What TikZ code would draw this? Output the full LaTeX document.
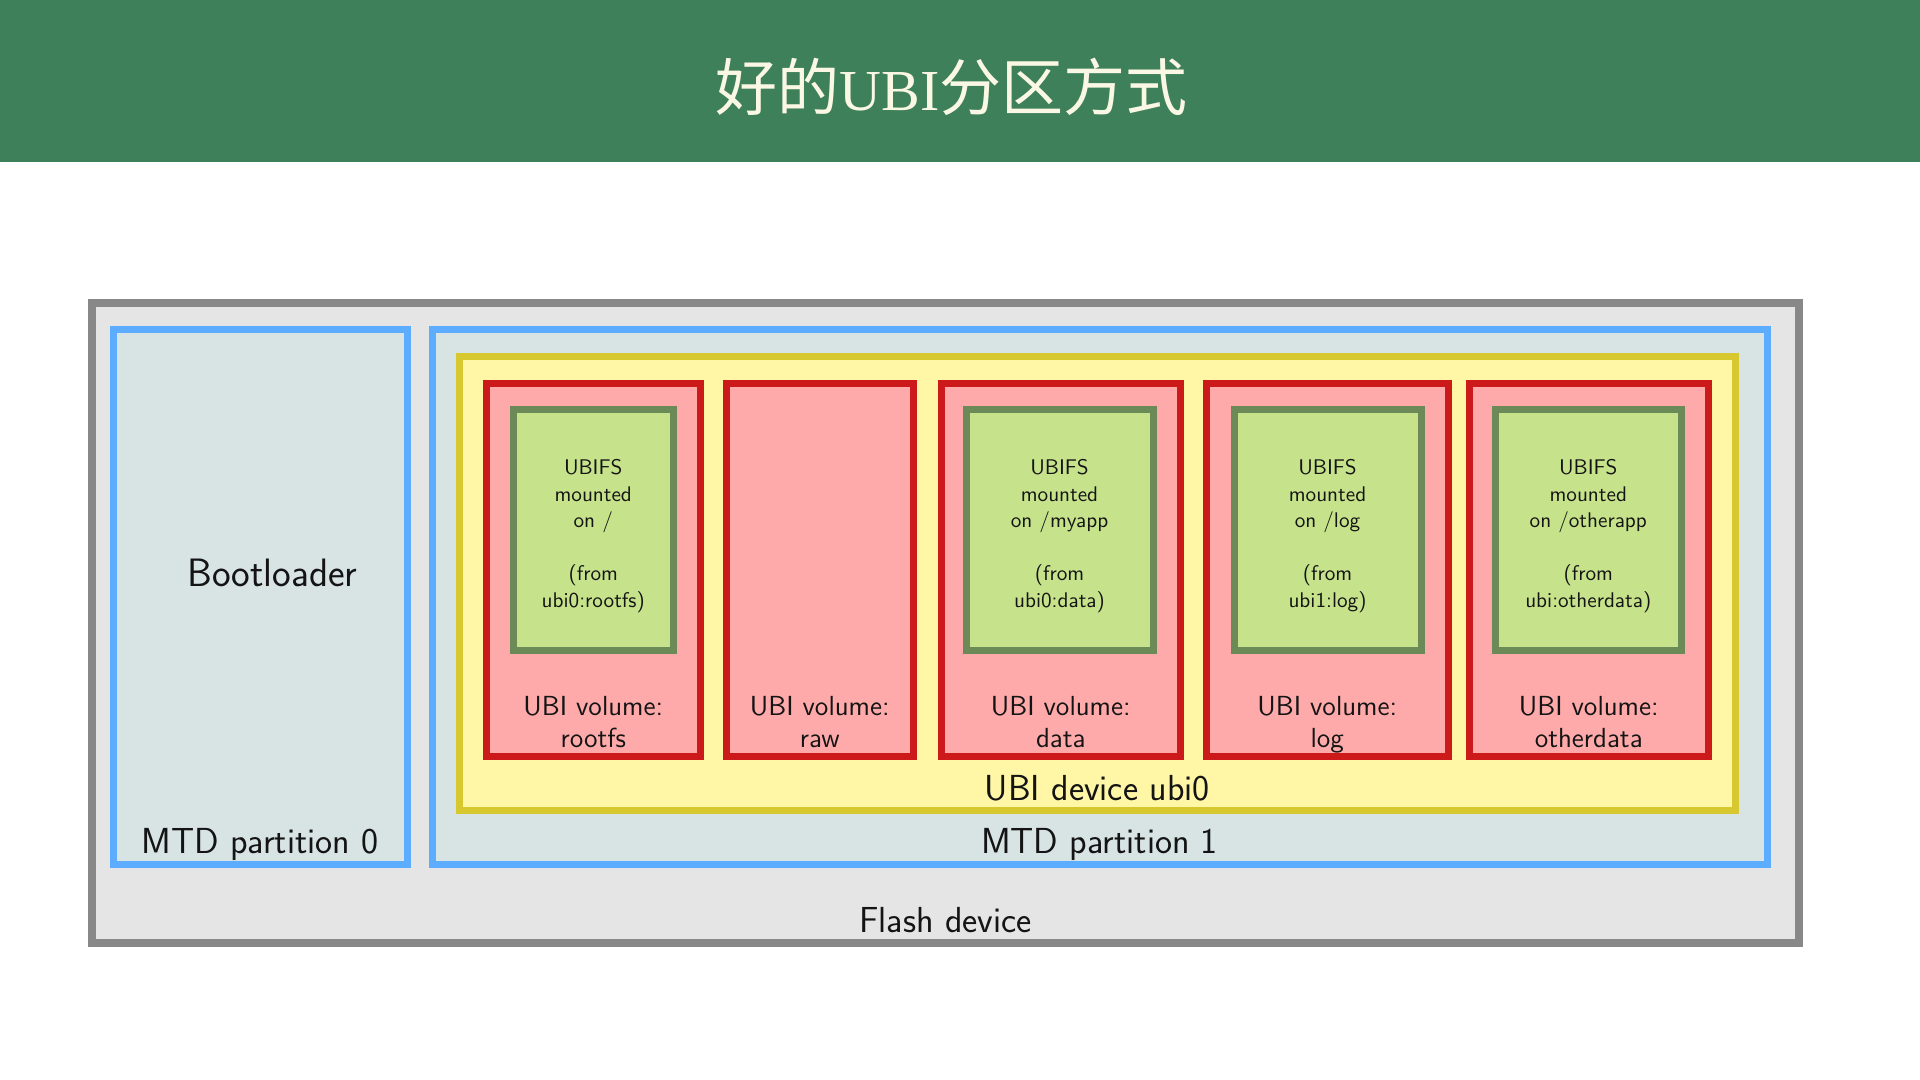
\documentclass[tikz,border=0pt]{standalone}
\usepackage{fontspec}
\newfontfamily\cjk{Noto Sans CJK SC}
\newfontfamily\titleserif{Liberation Serif}
\definecolor{hdr}{RGB}{62,128,90}
\definecolor{ttl}{RGB}{250,247,228}
\definecolor{flashline}{RGB}{136,136,136}
\definecolor{flashfill}{RGB}{229,229,229}
\definecolor{mtdline}{RGB}{92,172,255}
\definecolor{mtdfill}{RGB}{216,228,228}
\definecolor{ubiline}{RGB}{214,200,46}
\definecolor{ubifill}{RGB}{255,247,166}
\definecolor{volline}{RGB}{204,26,26}
\definecolor{volfill}{RGB}{255,170,170}
\definecolor{fsline}{RGB}{107,138,88}
\definecolor{fsfill}{RGB}{198,226,138}
\definecolor{txt}{RGB}{20,20,20}
\tikzset{
  boxbase/.style={rectangle, inner sep=0, outer sep=0, line width=3.5pt},
  flashbox/.style={boxbase, draw=flashline, fill=flashfill, line width=4pt},
  mtdbox/.style={boxbase, draw=mtdline, fill=mtdfill},
  ubibox/.style={boxbase, draw=ubiline, fill=ubifill},
  volbox/.style={boxbase, draw=volline, fill=volfill, minimum height=186.5pt},
  fsbox/.style={boxbase, draw=fsline, fill=fsfill, minimum height=120.25pt},
  biglbl/.style={inner sep=0, text=txt, font=\sffamily\fontsize{18.1}{21}\selectfont, anchor=base},
  vollbl/.style={inner sep=0, text=txt, align=center, anchor=north, font=\sffamily\fontsize{13.8}{16}\selectfont},
  fslbl/.style={inner sep=0, text=txt, align=center, anchor=north, font=\sffamily\fontsize{10.6}{13.25}\selectfont},
}
\begin{document}
\begin{tikzpicture}[x=0.5pt,y=-0.5pt]
\useasboundingbox[fill=white] (0,0) rectangle (1920,1080);
% header
\fill[hdr] (0,0) rectangle (1920,162);
\node[inner sep=0, text=ttl, font=\cjk\fontsize{31}{37}\selectfont] (title) at (951.5,87)
  {好的{\titleserif\fontsize{29}{34}\selectfont UBI}分区方式};
% flash device
\node[flashbox, minimum width=853.5pt, minimum height=319.75pt] (flash) at (945.5,623.25) {};
\node[biglbl] (flashlbl) at (945.5,932) {Flash device};
% MTD partitions
\node[mtdbox, minimum width=147pt, minimum height=267pt] (mtd0) at (260,597) {};
\node[mtdbox, minimum width=667.5pt, minimum height=267pt] (mtd1) at (1099.5,597) {};
\node[biglbl] (mtd0lbl) at (260,853) {MTD partition 0};
\node[biglbl] (mtd1lbl) at (1099.5,853) {MTD partition 1};
\node[inner sep=0, text=txt, anchor=base, font=\sffamily\fontsize{19.8}{24}\selectfont] (boot) at (272.5,586) {Bootloader};
% UBI device
\node[ubibox, minimum width=637.75pt, minimum height=226.5pt] (ubi) at (1097.25,583.5) {};
\node[biglbl] (ubilbl) at (1097.25,800) {UBI device ubi0};
% volumes
\node[volbox, minimum width=106.75pt] (vrootfs) at (593.25,569.5) {};
\node[volbox, minimum width=93.25pt] (vraw) at (819.75,569.5) {};
\node[volbox, minimum width=119.75pt] (vdata) at (1060.75,569.5) {};
\node[volbox, minimum width=120.75pt] (vlog) at (1327.25,569.5) {};
\node[volbox, minimum width=119.75pt] (vother) at (1588.75,569.5) {};
\node[vollbl] (lrootfs) at (593.25,696) {UBI volume:\\rootfs};
\node[vollbl] (lraw) at (819.75,696) {UBI volume:\\raw};
\node[vollbl] (ldata) at (1060.75,696) {UBI volume:\\data};
\node[vollbl] (llog) at (1327.25,696) {UBI volume:\\log};
\node[vollbl] (lother) at (1588.75,696) {UBI volume:\\otherdata};
% UBIFS boxes
\node[fsbox, minimum width=79.75pt] (frootfs) at (593.25,529.75) {};
\node[fsbox, minimum width=93.5pt] (fdata) at (1059.5,529.75) {};
\node[fsbox, minimum width=93.5pt] (flog) at (1327.5,529.75) {};
\node[fsbox, minimum width=93.25pt] (fother) at (1588.25,529.75) {};
\node[fslbl] (trootfs) at (593.25,459) {UBIFS\\mounted\\on /\\[13.25pt](from\\ubi0:rootfs)};
\node[fslbl] (tdata) at (1059.5,459) {UBIFS\\mounted\\on /myapp\\[13.25pt](from\\ubi0:data)};
\node[fslbl] (tlog) at (1327.5,459) {UBIFS\\mounted\\on /log\\[13.25pt](from\\ubi1:log)};
\node[fslbl] (tother) at (1588.25,459) {UBIFS\\mounted\\on /otherapp\\[13.25pt](from\\ubi:otherdata)};
\end{tikzpicture}
\end{document}
